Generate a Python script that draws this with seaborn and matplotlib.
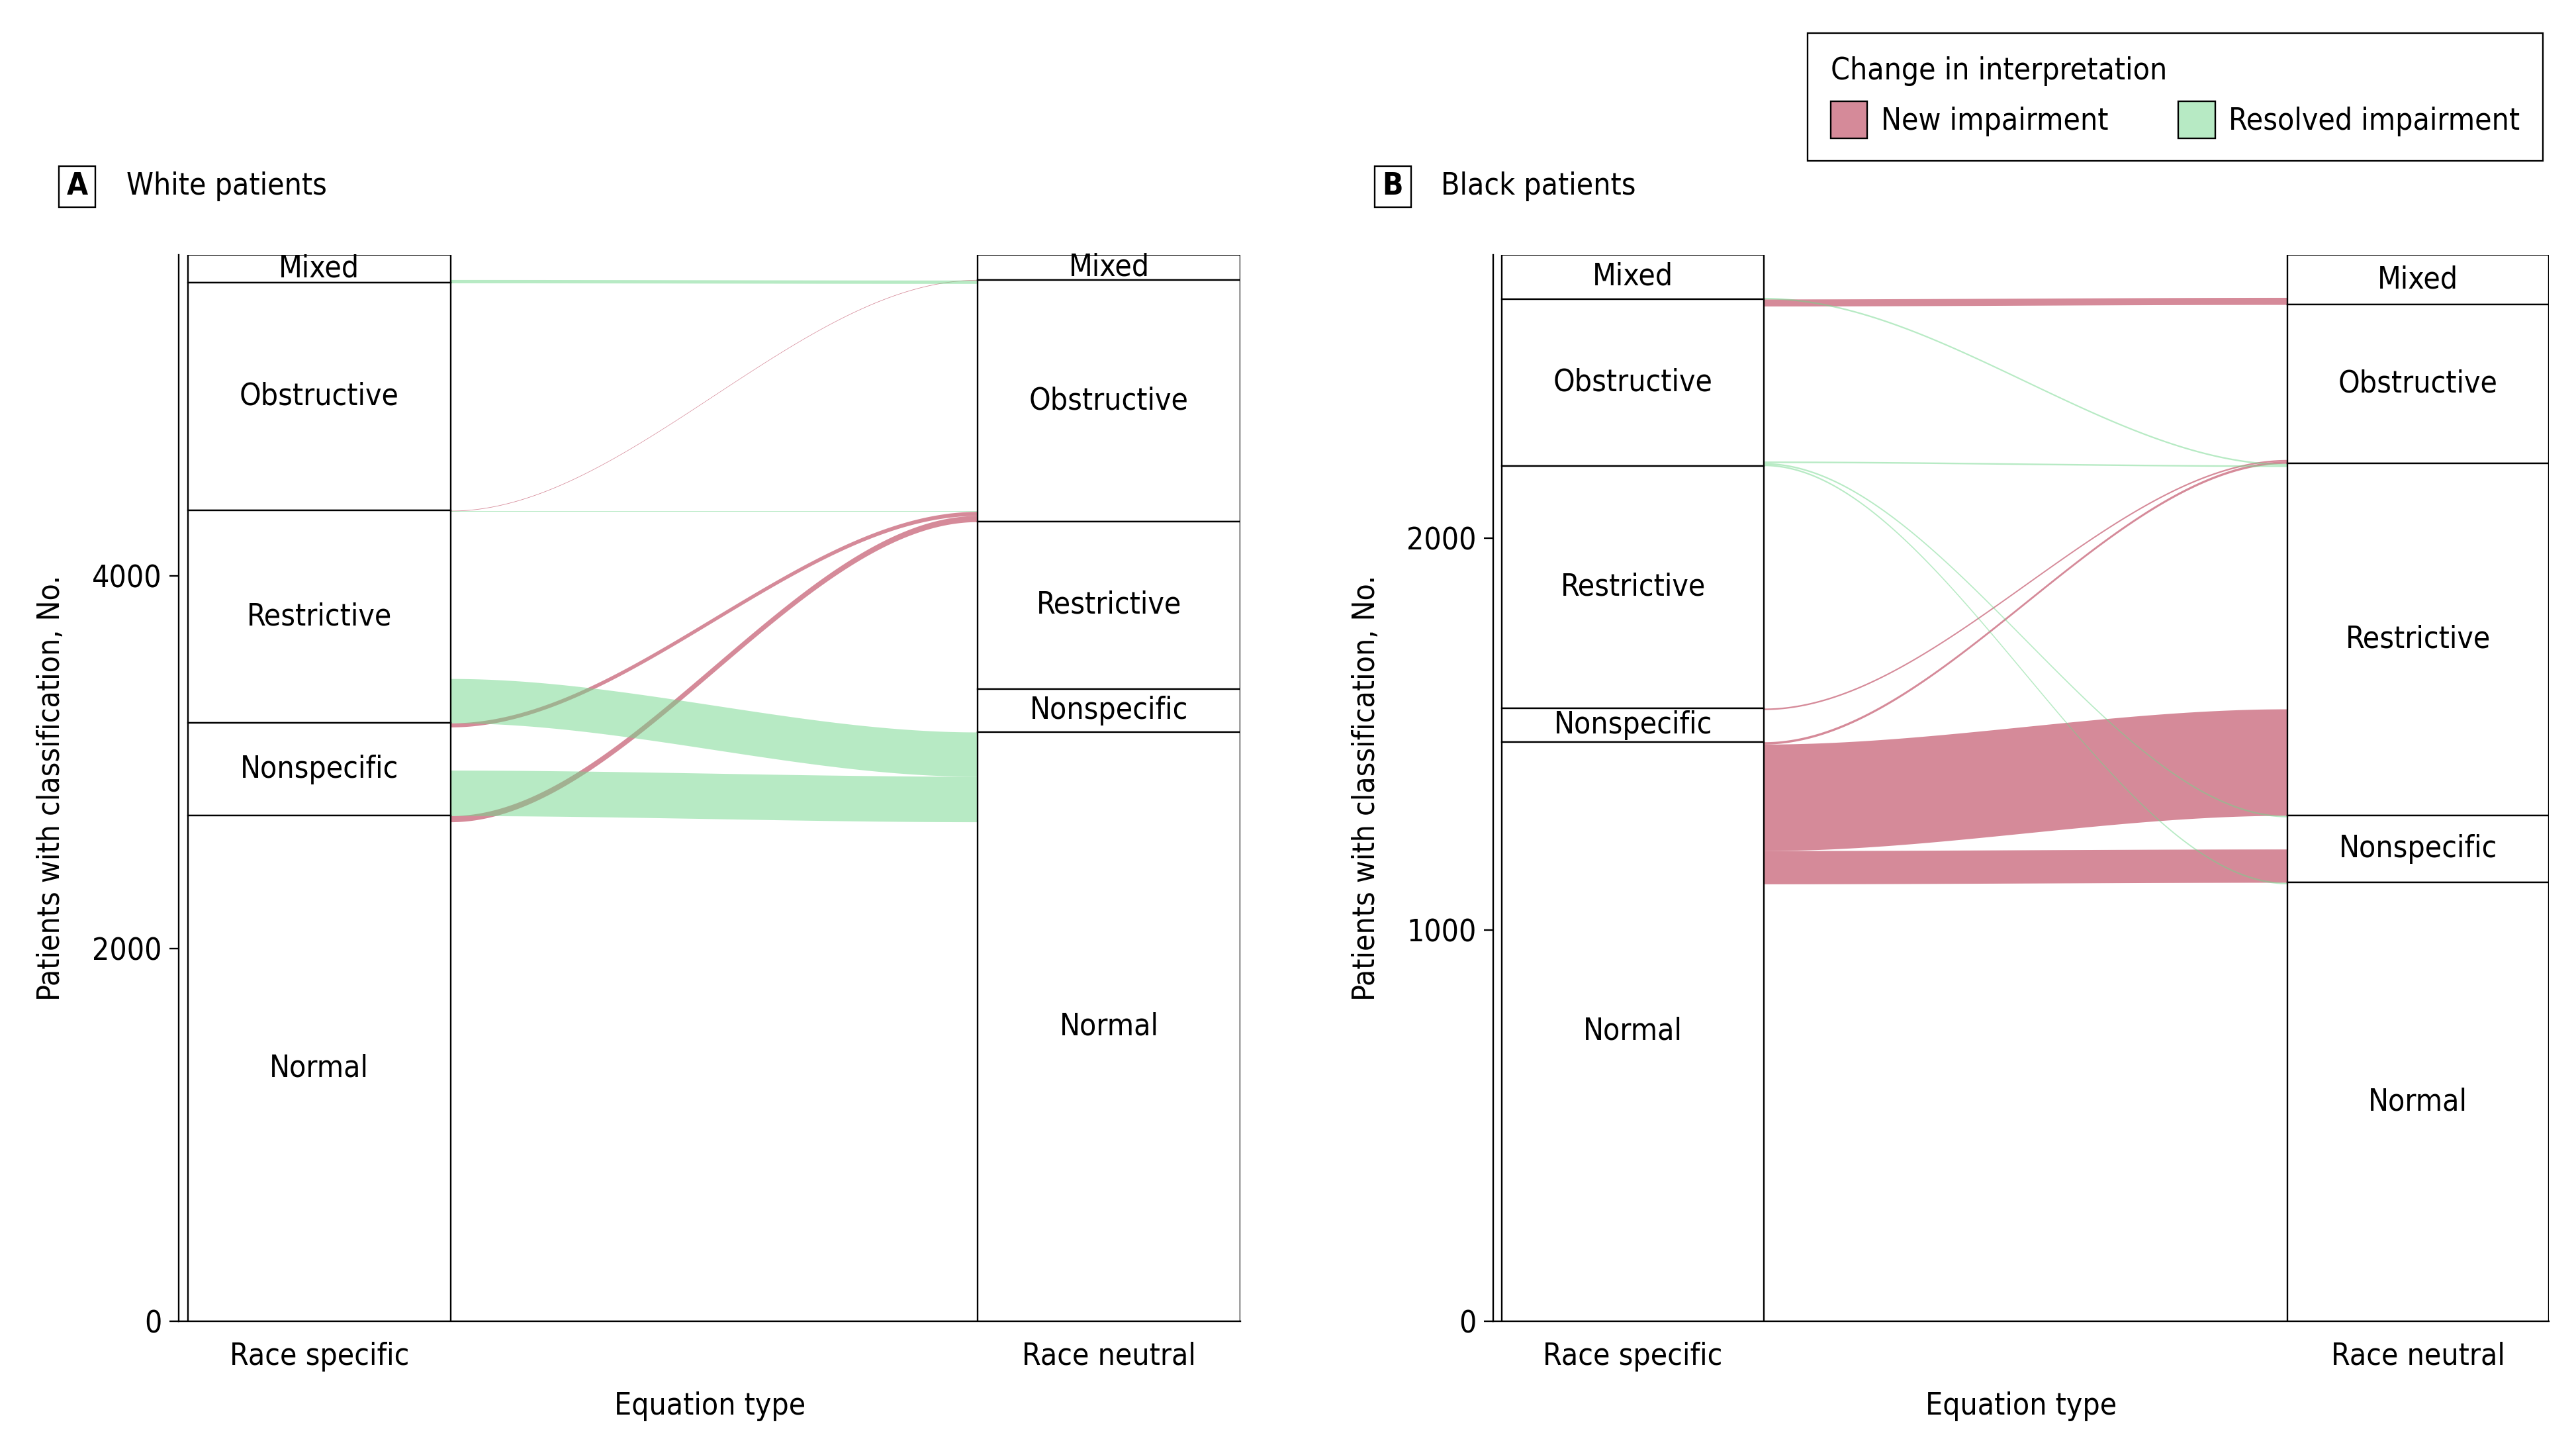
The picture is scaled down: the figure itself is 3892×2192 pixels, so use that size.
import numpy as np
import matplotlib
matplotlib.use("Agg")
import matplotlib.pyplot as plt
import matplotlib.font_manager as fm
from matplotlib.patches import Patch, Rectangle
from matplotlib.colors import to_rgba
import seaborn as sns

# ---------------- data ----------------
CATEGORIES = ["Mixed", "Obstructive", "Restrictive", "Nonspecific", "Normal"]  # top -> bottom
AXIS_LABELS = ["Race specific", "Race neutral"]

# White patients: rows = race-specific class, columns = race-neutral class (CATEGORIES order)
white_from_mixed       = [133,   18,   0,   0,    0]
white_from_obstructive = [0,   1221,   0,   0,    0]
white_from_restrictive = [3,      3, 897,   0,  238]
white_from_nonspecific = [0,     22,   0, 232,  244]
white_from_normal      = [0,     33,   0,   0, 2681]

# Black patients
black_from_mixed       = [109,   0,   4,  0,    0]
black_from_obstructive = [18,  396,   4,  4,    4]
black_from_restrictive = [0,     0, 619,  0,    0]
black_from_nonspecific = [0,     4,   0, 82,    0]
black_from_normal      = [0,     6, 272, 85, 1117]

NEW_IMPAIRMENT = [("Restrictive", "Mixed"), ("Nonspecific", "Obstructive"),
                  ("Normal", "Obstructive"), ("Obstructive", "Mixed"),
                  ("Normal", "Restrictive"), ("Normal", "Nonspecific")]
RESOLVED_IMPAIRMENT = [("Mixed", "Obstructive"), ("Restrictive", "Obstructive"),
                       ("Restrictive", "Normal"), ("Nonspecific", "Normal"),
                       ("Mixed", "Restrictive"), ("Obstructive", "Restrictive"),
                       ("Obstructive", "Nonspecific"), ("Obstructive", "Normal")]

white_ticks = [0, 2000, 4000]
black_ticks = [0, 1000, 2000]

PINK = "#AD1735"
GREEN = "#71D78B"
ALPHA = 0.5

# ---------------- style ----------------
sns.set_theme(style="white")
FS = 16.6
entries = {(f.name, str(f.stretch)) for f in fm.fontManager.ttflist}
names = {f.name for f in fm.fontManager.ttflist}
if ("DejaVu Sans", "condensed") in entries:
    plt.rcParams["font.family"] = ["DejaVu Sans"]
    plt.rcParams["font.stretch"] = "condensed"
elif "Liberation Sans Narrow" in names:
    plt.rcParams["font.family"] = ["Liberation Sans Narrow", "DejaVu Sans"]
    FS = 19
else:
    plt.rcParams["font.family"] = ["DejaVu Sans"]
    FS = 15.5
plt.rcParams["font.size"] = FS
plt.rcParams["text.color"] = "black"
plt.rcParams["axes.labelcolor"] = "black"
plt.rcParams["xtick.color"] = "black"
plt.rcParams["ytick.color"] = "black"

W, H, DPI = 3892, 2192, 200
fig = plt.figure(figsize=(W / DPI, H / DPI), dpi=DPI)
fig.patch.set_facecolor("white")

LW = 0.85


def px(x, y):
    return x / W, 1 - y / H


def draw_panel(ax, rows, ticks):
    F = np.array(rows, dtype=float)
    left = F.sum(axis=1)
    right = F.sum(axis=0)
    total = left.sum()
    bw = 1 / 3
    ltop = total - np.concatenate([[0], np.cumsum(left)[:-1]])
    rtop = total - np.concatenate([[0], np.cumsum(right)[:-1]])

    # flows (only changed classifications are coloured)
    x0, x1 = 1 + bw / 2, 2 - bw / 2
    xx = np.linspace(x0, x1, 300)
    t = (xx - x0) / (x1 - x0)
    s = t * t * (3 - 2 * t)
    for colour, pairs, z in [(PINK, NEW_IMPAIRMENT, 1), (GREEN, RESOLVED_IMPAIRMENT, 2)]:
        for src, dst in pairs:
            i, j = CATEGORIES.index(src), CATEGORIES.index(dst)
            v = F[i, j]
            if v <= 0:
                continue
            lt = ltop[i] - F[i, :j].sum()
            rt = rtop[j] - F[:i, j].sum()
            upper = lt + (rt - lt) * s
            lower = upper - v
            ax.fill_between(xx, lower, upper, color=colour, alpha=ALPHA, lw=0, zorder=z)

    # strata boxes
    for xpos, sizes, tops in [(1, left, ltop), (2, right, rtop)]:
        ax.bar([xpos] * len(sizes), sizes, bottom=tops - sizes, width=bw,
               facecolor="white", edgecolor="black", linewidth=LW, zorder=3)
        for cat, sz, tp in zip(CATEGORIES, sizes, tops):
            ax.text(xpos, tp - sz / 2, cat, ha="center", va="center", fontsize=FS, zorder=4)

    ax.set_xlim(0.822, 2 + bw / 2)
    ax.set_ylim(0, total)
    ax.set_xticks([1, 2])
    ax.set_xticklabels(AXIS_LABELS)
    ax.set_yticks(ticks)
    ax.set_yticklabels([str(v) for v in ticks])
    ax.tick_params(axis="x", length=0, pad=11, labelsize=FS)
    ax.tick_params(axis="y", direction="out", length=5, width=LW, pad=4, labelsize=FS, left=True)
    ax.set_xlabel("Equation type", fontsize=FS, labelpad=11)
    ax.set_ylabel("Patients with classification, No.", fontsize=FS, labelpad=14)
    sns.despine(ax=ax)
    for sp in ("left", "bottom"):
        ax.spines[sp].set_color("black")
        ax.spines[sp].set_linewidth(LW)
    ax.grid(False)
    ax.set_facecolor("white")


bottom = (H - 1996) / H
height = (1996 - 385) / H
axA = fig.add_axes([270 / W, bottom, 1604.3 / W, height])
axB = fig.add_axes([2256 / W, bottom, 1595 / W, height])

draw_panel(axA, [white_from_mixed, white_from_obstructive, white_from_restrictive,
                 white_from_nonspecific, white_from_normal], white_ticks)
draw_panel(axB, [black_from_mixed, black_from_obstructive, black_from_restrictive,
                 black_from_nonspecific, black_from_normal], black_ticks)

# panel titles
for letter, title, bx, tx in [("A", "White patients", 89, 191), ("B", "Black patients", 2077, 2177)]:
    x0, y0 = px(bx, 313)
    x1, y1 = px(bx + 55, 251)
    fig.patches.append(Rectangle((x0, y0), x1 - x0, y1 - y0, transform=fig.transFigure,
                                 facecolor="white", edgecolor="black", linewidth=LW))
    cx, cy = px(bx + 27.5, 282)
    fig.text(cx, cy, letter, ha="center", va="center", fontsize=FS, fontweight="bold")
    fig.text(px(tx, 282)[0], cy, title, ha="left", va="center", fontsize=FS)

# legend
handles = [Patch(facecolor=to_rgba(PINK, ALPHA), edgecolor="black", linewidth=LW),
           Patch(facecolor=to_rgba(GREEN, ALPHA), edgecolor="black", linewidth=LW)]
leg = fig.legend(handles, ["New impairment", "Resolved impairment"],
                 title="Change in interpretation", ncol=2, loc="upper right",
                 bbox_to_anchor=px(3842, 50), frameon=True, fancybox=False,
                 edgecolor="black", framealpha=1, fontsize=FS, title_fontsize=FS,
                 handlelength=1.2, handleheight=1.5, columnspacing=2.3,
                 handletextpad=0.45, borderpad=0.75, labelspacing=0.5, alignment="left",
                 borderaxespad=0)
leg.get_frame().set_linewidth(LW)

fig.savefig("out.png", dpi=DPI, facecolor="white")
